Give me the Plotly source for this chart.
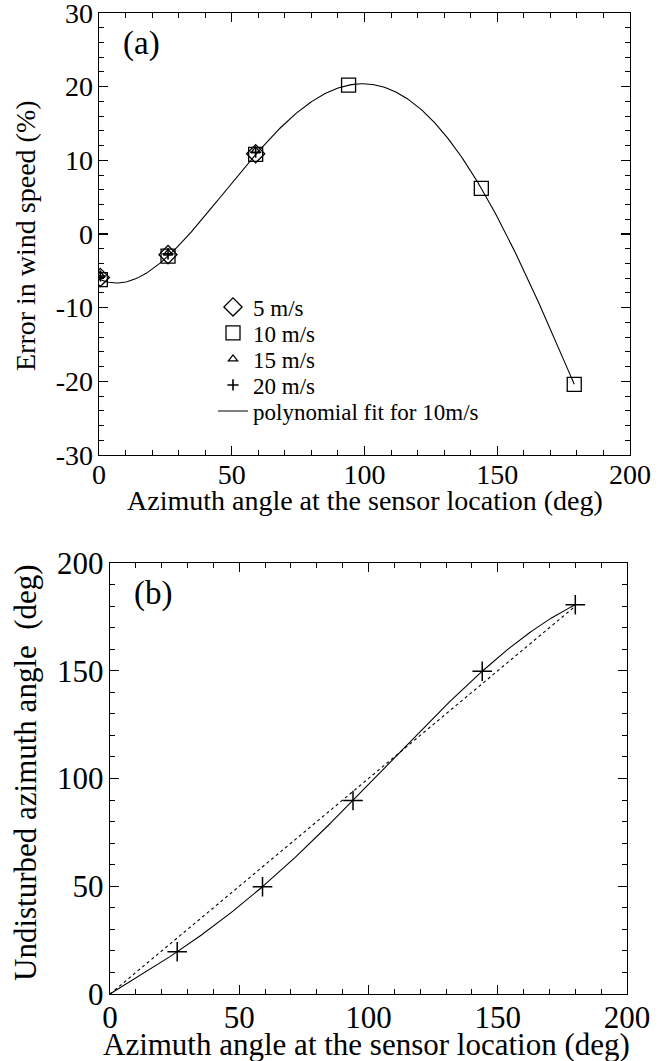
import numpy as np
import plotly.graph_objects as go

# ---------------- data: panel (a) ----------------
angle_a = [0.5, 26, 59, 94, 144, 179]          # azimuth at sensor (deg)
err_5 = [-5.9, -2.8, 10.9]                      # 5 m/s (first three angles)
err_10 = [-6.2, -3.0, 10.8, 20.2, 6.2, -20.4]   # 10 m/s
err_15 = [-5.6, -2.6, 11.3]                     # 15 m/s
err_20 = [-5.7, -2.7, 11.1]                     # 20 m/s
xticks_a = [0, 50, 100, 150, 200]
yticks_a = [30, 20, 10, 0, -10, -20, -30]
yticktext_a = ["30", "20", "10", "0", "-10", "-20", "-30"]

# ---------------- data: panel (b) ----------------
angle_b = [26, 59, 94, 144, 180]
undisturbed_b = [19.6, 49.8, 89.8, 149.8, 180.6]
diag_b = [0, 180]
xticks_b = [0, 50, 100, 150, 200]
yticks_b = [0, 50, 100, 150, 200]

FONT = "Liberation Serif"
W, H = 666, 1061


def px(v):
    return v / W


def py(v):
    return 1 - v / H


# polynomial fit for 10 m/s
coef_a = np.polyfit(angle_a, err_10, 5)
xf_a = np.linspace(0, angle_a[-1], 300)
yf_a = np.polyval(coef_a, xf_a)

# polynomial fit for panel (b) (through origin + points)
xb_fit = [0] + angle_b
yb_fit = [0] + undisturbed_b
coef_b = np.polyfit(xb_fit, yb_fit, 5)
xf_b = np.linspace(0, angle_b[-1], 300)
yf_b = np.polyval(coef_b, xf_b)

fig = go.Figure()
blk = "black"
fig.add_trace(go.Scatter(x=angle_a[:3], y=err_5, mode="markers", name="5 m/s", legend="legend",
                         marker=dict(symbol="diamond-open", size=14, color=blk, line=dict(width=1.3, color=blk)),
                         xaxis="x", yaxis="y"))
fig.add_trace(go.Scatter(x=angle_a, y=err_10, mode="markers", name="10 m/s", legend="legend2",
                         marker=dict(symbol="square-open", size=14, color=blk, line=dict(width=1.3, color=blk)),
                         xaxis="x", yaxis="y"))
fig.add_trace(go.Scatter(x=angle_a[:3], y=err_15, mode="markers", name="15 m/s", legend="legend3",
                         marker=dict(symbol="triangle-up-open", size=8, color=blk, line=dict(width=1.3, color=blk)),
                         xaxis="x", yaxis="y"))
fig.add_trace(go.Scatter(x=angle_a[:3], y=err_20, mode="markers", name="20 m/s", legend="legend4",
                         marker=dict(symbol="cross-thin-open", size=8, color=blk, line=dict(width=1.6, color=blk)),
                         xaxis="x", yaxis="y"))
fig.add_trace(go.Scatter(x=xf_a, y=yf_a, mode="lines", name="polynomial fit for 10m/s", legend="legend5",
                         line=dict(color=blk, width=1.1), xaxis="x", yaxis="y"))

# panel (b)
fig.add_trace(go.Scatter(x=diag_b, y=diag_b, mode="lines", showlegend=False,
                         line=dict(color=blk, width=1.1, dash="dot"), xaxis="x2", yaxis="y2"))
fig.add_trace(go.Scatter(x=xf_b, y=yf_b, mode="lines", showlegend=False,
                         line=dict(color=blk, width=1.1), xaxis="x2", yaxis="y2"))
fig.add_trace(go.Scatter(x=angle_b, y=undisturbed_b, mode="markers", showlegend=False,
                         marker=dict(symbol="cross-thin-open", size=14, color=blk, line=dict(width=1.5, color=blk)),
                         xaxis="x2", yaxis="y2"))


def ax(domain, rng, tickvals, minor_dtick, size, anchor, standoff, ticktext=None):
    d = dict(domain=domain, range=rng, tickvals=tickvals, showgrid=False, zeroline=False,
             showline=True, linecolor=blk, linewidth=1.3, mirror="allticks", automargin=False,
             ticks="inside", ticklen=9, tickwidth=1.2, tickcolor=blk,
             ticklabeloverflow="allow", ticklabelstandoff=standoff,
             minor=dict(dtick=minor_dtick, ticks="inside", ticklen=5, tickwidth=1, tickcolor=blk, showgrid=False),
             tickfont=dict(family=FONT, size=size, color=blk), anchor=anchor, fixedrange=True)
    if ticktext is not None:
        d["ticktext"] = ticktext
    return d


def leg(row_y):
    return dict(x=px(213), y=py(row_y), xanchor="left", yanchor="middle",
                font=dict(family=FONT, size=23, color=blk), bgcolor="rgba(0,0,0,0)",
                borderwidth=0, itemwidth=30)


legend_rows = [307, 333, 359, 385, 411]

fig.update_layout(
    template="none",
    width=W, height=H, margin=dict(l=0, r=0, t=0, b=0, pad=0, autoexpand=False),
    paper_bgcolor="white", plot_bgcolor="white",
    font=dict(family=FONT, color=blk),
    xaxis=ax([px(99), px(630)], [0, 200], xticks_a, 10, 28, "y", -6),
    yaxis=ax([py(455), py(13)], [-30, 30], yticks_a, 2, 28, "x", -1, yticktext_a),
    xaxis2=ax([px(110), px(627)], [0, 200], xticks_b, 10, 31, "y2", -5),
    yaxis2=ax([py(994), py(563)], [0, 200], yticks_b, 10, 31, "x2", -1),
    legend=leg(legend_rows[0]),
    legend2=leg(legend_rows[1]),
    legend3=leg(legend_rows[2]),
    legend4=leg(legend_rows[3]),
    legend5=leg(legend_rows[4]),
    showlegend=True,
)

ann = [
    dict(text="Azimuth angle at the sensor location (deg)", x=px(365), y=py(500), size=28, angle=0),
    dict(text="Azimuth angle at the sensor location (deg)", x=px(366), y=py(1044), size=31, angle=0),
    dict(text="Error in wind speed (%)", x=px(25), y=py(236), size=28, angle=-90),
    dict(text="Undisturbed azimuth angle&nbsp; (deg)", x=px(25), y=py(773), size=31, angle=-90),
    dict(text="(a)", x=px(141), y=py(44), size=33, angle=0),
    dict(text="(b)", x=px(153), y=py(593), size=33, angle=0),
]
for a in ann:
    fig.add_annotation(text=a["text"], x=a["x"], y=a["y"], xref="paper", yref="paper",
                       xanchor="center", yanchor="middle", showarrow=False, textangle=a["angle"],
                       font=dict(family=FONT, size=a["size"], color=blk))

fig.write_html("out.html", config={"displayModeBar": False, "staticPlot": True},
               post_script="document.body.style.margin='0px';document.body.style.overflow='hidden';")
